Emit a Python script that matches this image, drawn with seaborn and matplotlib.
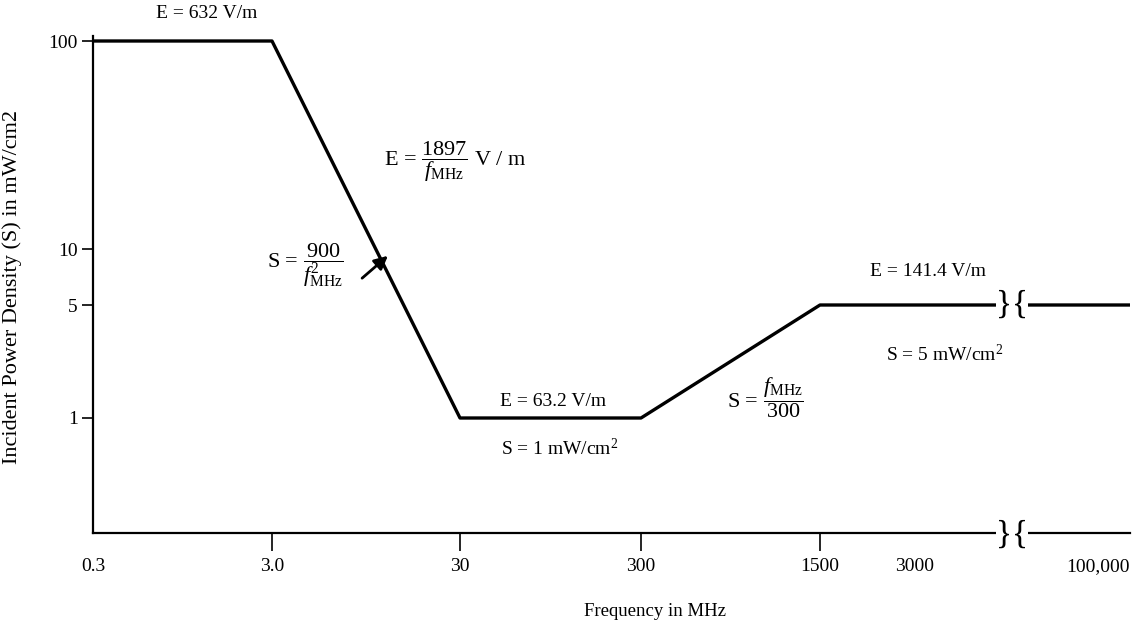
import matplotlib
matplotlib.use("Agg")
import matplotlib.pyplot as plt
import numpy as np
import seaborn as sns

# Piecewise exposure limit (power density vs frequency)
freq_mhz = [0.3, 3, 30, 300, 1500, 100000]
density = [100, 100, 1, 1, 5, 5]

xtick_vals = [0.3, 3, 30, 300, 1500, 3000, 100000]
xtick_labels = ["0.3", "3.0", "30", "300", "1500", "3000", "100,000"]
ytick_vals = [1, 5, 10, 100]
ytick_labels = ["1", "5", "10", "100"]

# the drawing is schematic, so the axes use a piecewise log scale
x_knot_f = [0.3, 3, 30, 300, 1500, 3000, 100000]
x_knot_pos = [93, 272, 460, 641, 820, 915, 1130]
y_knot_s = [0.2, 1, 5, 10, 100, 115]
y_knot_pos = [-533, -418, -305, -249, -41, -36]

W, H = 1146, 621

sns.set_theme(style="white")
plt.rcParams["font.family"] = ["Liberation Serif", "DejaVu Serif"]
plt.rcParams["mathtext.fontset"] = "custom"
plt.rcParams["mathtext.rm"] = "Liberation Serif"
plt.rcParams["mathtext.it"] = "Liberation Serif:italic"


def x_fwd(v):
    return np.interp(np.log10(np.clip(v, 1e-9, None)), np.log10(x_knot_f), x_knot_pos)


def x_inv(p):
    return 10 ** np.interp(p, x_knot_pos, np.log10(x_knot_f))


def y_fwd(v):
    return np.interp(np.log10(np.clip(v, 1e-9, None)), np.log10(y_knot_s), y_knot_pos)


def y_inv(p):
    return 10 ** np.interp(p, y_knot_pos, np.log10(y_knot_s))


def px(x, y):
    return x / W, 1 - y / H


fig = plt.figure(figsize=(W / 100, H / 100), dpi=100)
ax = fig.add_axes([93 / W, 1 - 533 / H, (1130 - 93) / W, (533 - 36) / H])
ax.set_xscale("function", functions=(x_fwd, x_inv))
ax.set_yscale("function", functions=(y_fwd, y_inv))

sns.lineplot(x=freq_mhz, y=density, sort=False, estimator=None,
             color="black", linewidth=2.4, ax=ax)

ax.set_xlim(0.3, 100000)
ax.set_ylim(0.2, 115)

for s in ["top", "right"]:
    ax.spines[s].set_visible(False)
for s in ["left", "bottom"]:
    ax.spines[s].set_color("black")
    ax.spines[s].set_linewidth(1.6)

ax.set_xticks(xtick_vals)
ax.set_xticklabels(xtick_labels)
ax.set_yticks(ytick_vals)
ax.set_yticklabels(ytick_labels)
ax.minorticks_off()
ax.tick_params(axis="x", direction="out", length=13, width=1.2, pad=5,
               labelsize=14, colors="black", bottom=True)
ax.tick_params(axis="y", direction="out", length=8, width=1.2, pad=3,
               labelsize=14, colors="black", left=True)
for i, t in enumerate(ax.xaxis.get_major_ticks()):
    if xtick_labels[i] in ("0.3", "3000", "100,000"):
        t.tick1line.set_visible(False)
last = ax.get_xticklabels()[-1]
last.set_horizontalalignment("right")

ax.set_xlabel("Frequency in MHz", fontsize=13.5, color="black")
ax.xaxis.set_label_coords(*px(655, 603), transform=fig.transFigure)
ax.set_ylabel("Incident Power Density (S) in mW/cm2", fontsize=16, color="black")
ax.yaxis.set_label_coords(*px(22, 287), transform=fig.transFigure)

# annotations
kw = dict(ha="center", va="center", fontsize=14, color="black")
fig.text(*px(207, 14), "E = 632 V/m", **kw)
fig.text(*px(455, 162), r"E = $\dfrac{1897}{f_{\mathrm{MHz}}}$ V / m",
         **{**kw, "fontsize": 16})
fig.text(*px(305, 265), r"S = $\dfrac{900}{f^{2}_{\mathrm{MHz}}}$",
         **{**kw, "fontsize": 16})
fig.text(*px(553, 401), "E = 63.2 V/m", **kw)
fig.text(*px(560, 448), r"S = 1 mW/cm$^{2}$", **kw)
fig.text(*px(765, 398), r"S = $\dfrac{f_{\mathrm{MHz}}}{300}$",
         **{**kw, "fontsize": 16})
fig.text(*px(928, 272), "E = 141.4 V/m", **kw)
fig.text(*px(945, 354), r"S = 5 mW/cm$^{2}$", **kw)

ax.annotate("", xy=px(390, 254), xytext=px(360, 280),
            xycoords="figure fraction", textcoords="figure fraction",
            arrowprops=dict(arrowstyle="-|>", color="black", lw=2,
                            mutation_scale=20))

# axis / line breaks
brk = dict(ha="center", va="center", fontsize=24, color="black", zorder=10,
           bbox=dict(boxstyle="square,pad=0.0", fc="white", ec="none"))
fig.text(*px(1012, 305), "}{", **brk)
fig.text(*px(1012, 535), "}{", **brk)

fig.savefig("out.png", dpi=100)
